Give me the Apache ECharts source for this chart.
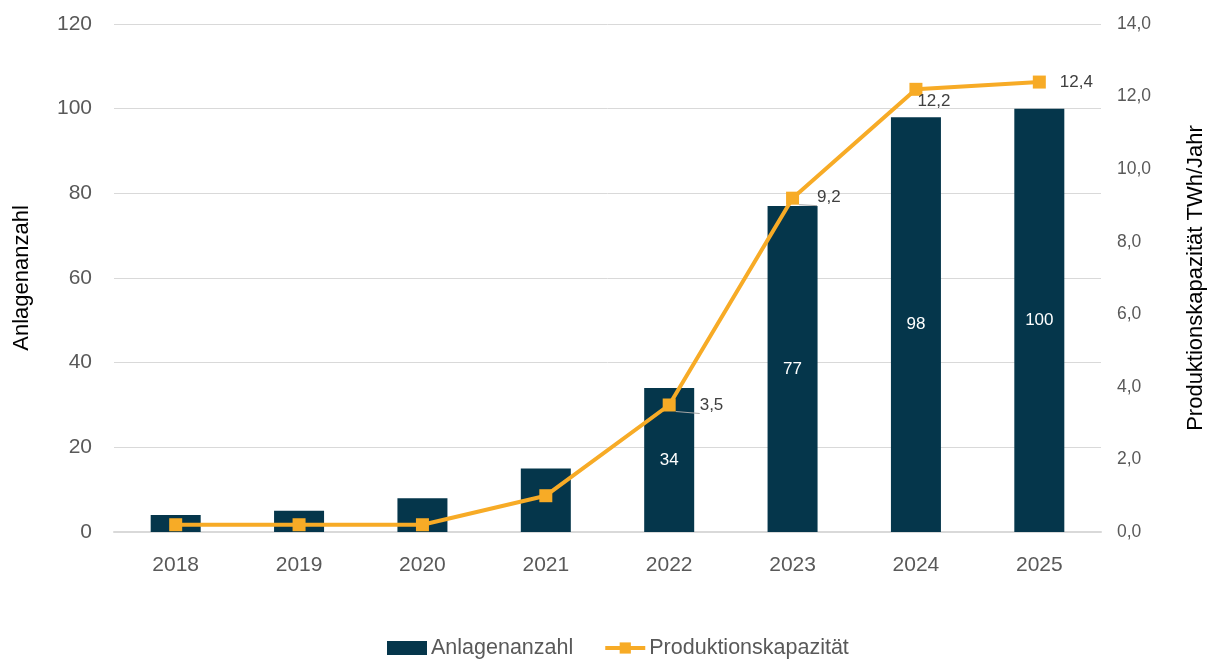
<!DOCTYPE html>
<html>
<head>
<meta charset="utf-8">
<script src="https://cdn.jsdelivr.net/npm/echarts@6/dist/echarts.min.js"></script>
<style>
  html, body { margin: 0; padding: 0; background: #fff; }
  #chart { width: 1209px; height: 659px; }
</style>
</head>
<body>
<div id="chart"></div>
<script>
  var years = ['2018', '2019', '2020', '2021', '2022', '2023', '2024', '2025'];
  var anlagen = [4, 5, 8, 15, 34, 77, 98, 100];
  var kapazitaet = [0.2, 0.2, 0.2, 1.0, 3.5, 9.2, 12.2, 12.4];
  var leftTicks = [0, 20, 40, 60, 80, 100, 120];
  var rightTicks = [0, 2, 4, 6, 8, 10, 12, 14];

  var textGrey = '#595959';
  var barColor = '#05364b';
  var lineColor = '#f7ab26';

  // nur ab 2022 werden Werte beschriftet
  var barData = anlagen.map(function (v, i) {
    return { value: v, label: { show: i >= 4 } };
  });
  var lineData = kapazitaet.map(function (v, i) {
    var item = { value: v, label: { show: i >= 4 } };
    if (i === 4) {
      // kleine Führungslinie zum Label wie im Original
      item.label.offset = [14, 0];
      item.labelLine = { show: true, lineStyle: { color: '#a6a6a6', width: 1 } };
    }
    if (i === 5) {
      item.label.offset = [8, -1];
      item.labelLine = { show: true, lineStyle: { color: '#a6a6a6', width: 1 } };
    }
    if (i === 6) {
      item.label.position = 'bottom';
      item.label.offset = [18, -13];
    }
    if (i === 7) {
      item.label.distance = 14;
    }
    return item;
  });

  var chart = echarts.init(document.getElementById('chart'));
  chart.setOption({
    animation: false,
    textStyle: { fontFamily: 'Liberation Sans, Arial, sans-serif' },
    grid: { left: 114, right: 108, top: 24, bottom: 127, outerBoundsMode: 'none' },
    legend: {
      top: 632,
      left: 382,
      itemGap: 30,
      itemWidth: 40,
      itemHeight: 14,
      textStyle: { color: textGrey, fontSize: 21.5, padding: [0, 0, 0, -1] },
      data: [
        { name: 'Anlagenanzahl', icon: 'rect' },
        { name: 'Produktionskapazität', lineStyle: { width: 4 } }
      ]
    },
    xAxis: {
      type: 'category',
      data: years,
      axisLine: { lineStyle: { color: '#d9d9d9', width: 2 } },
      axisTick: { show: false },
      axisLabel: { color: textGrey, fontSize: 21, margin: 23 }
    },
    yAxis: [
      {
        type: 'value',
        min: 0, max: leftTicks[leftTicks.length - 1], interval: 20,
        name: 'Anlagenanzahl',
        nameLocation: 'middle',
        nameRotate: 90,
        nameGap: 81,
        nameTextStyle: { color: '#000', fontSize: 22 },
        axisLabel: { color: textGrey, fontSize: 21, margin: 22 },
        splitLine: { lineStyle: { color: '#d9d9d9' } }
      },
      {
        type: 'value',
        min: 0, max: rightTicks[rightTicks.length - 1], interval: 2,
        name: 'Produktionskapazität TWh/Jahr',
        nameLocation: 'middle',
        nameRotate: 90,
        nameGap: 84,
        nameTextStyle: { color: '#000', fontSize: 22 },
        axisLabel: {
          color: textGrey, fontSize: 17.5, margin: 16,
          formatter: function (v) { return v.toFixed(1).replace('.', ','); }
        },
        splitLine: { show: false }
      }
    ],
    series: [
      {
        name: 'Anlagenanzahl',
        type: 'bar',
        data: barData,
        barWidth: 50,
        itemStyle: { color: barColor },
        label: { position: 'inside', color: '#fff', fontSize: 17 }
      },
      {
        name: 'Produktionskapazität',
        type: 'line',
        yAxisIndex: 1,
        data: lineData,
        symbol: 'rect',
        symbolSize: 13,
        lineStyle: { color: lineColor, width: 4 },
        itemStyle: { color: lineColor },
        label: {
          position: 'right',
          distance: 10,
          color: '#404040',
          fontSize: 17,
          formatter: function (p) { return p.value.toFixed(1).replace('.', ','); }
        }
      }
    ]
  });
</script>
</body>
</html>
